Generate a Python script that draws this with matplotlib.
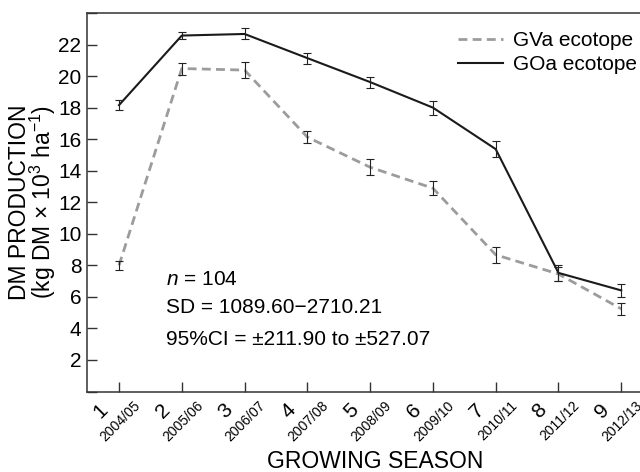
import matplotlib
matplotlib.use("Agg")
import matplotlib.pyplot as plt
import matplotlib.transforms as mtransforms

plt.rcParams['font.family'] = ['Liberation Sans', 'DejaVu Sans']
plt.rcParams['mathtext.fontset'] = 'custom'
plt.rcParams['mathtext.rm'] = 'Liberation Sans'
plt.rcParams['mathtext.it'] = 'Liberation Sans:italic'

seasons = [1, 2, 3, 4, 5, 6, 7, 8, 9]
years = ["2004/05", "2005/06", "2006/07", "2007/08", "2008/09",
         "2009/10", "2010/11", "2011/12", "2012/13"]
gva = [8.0, 20.48, 20.38, 16.13, 14.22, 12.89, 8.67, 7.45, 5.24]
gva_err = [0.3, 0.38, 0.5, 0.4, 0.5, 0.45, 0.5, 0.45, 0.38]
goa = [18.16, 22.57, 22.67, 21.14, 19.62, 18.0, 15.37, 7.52, 6.41]
goa_err = [0.33, 0.25, 0.35, 0.35, 0.35, 0.45, 0.52, 0.52, 0.42]
yticks = [0, 2, 4, 6, 8, 10, 12, 14, 16, 18, 20, 22, 24]

W, H = 640, 472
fig = plt.figure(figsize=(W / 100, H / 100), dpi=100)
ax = fig.add_axes([87 / W, 1 - 391.5 / H, 565 / W, 378.5 / H])

ax.plot(seasons, gva, color='#9c9c9c', lw=2.0, dashes=(3.2, 1.9),
        label='GVa ecotope', zorder=2)
ax.plot(seasons, goa, color='#1a1a1a', lw=1.5, label='GOa ecotope', zorder=2)
ax.errorbar(seasons, gva, yerr=gva_err, fmt='none', ecolor='#222222',
            elinewidth=0.8, capsize=2.6, capthick=0.8, zorder=3)
ax.errorbar(seasons, goa, yerr=goa_err, fmt='none', ecolor='#222222',
            elinewidth=0.8, capsize=2.6, capthick=0.8, zorder=3)

ax.set_xlim(0.49, 9.49)
ax.set_ylim(0, 24)
ax.set_yticks(yticks)
ax.set_yticklabels(['' if (v == 0 or v == 24) else str(v) for v in yticks])
ax.set_xticks(seasons)
ax.set_xticklabels([''] * len(seasons))
ax.tick_params(axis='both', direction='in', length=7.5, width=1.0,
               color='#333333', labelsize=15, pad=4)
for s in ['left', 'top', 'bottom']:
    ax.spines[s].set_linewidth(1.1)
    ax.spines[s].set_color('#333333')
ax.spines['right'].set_visible(False)

# two-part rotated x tick labels
trans = mtransforms.blended_transform_factory(ax.transData, ax.transAxes)
for s, yr in zip(seasons, years):
    t_num = mtransforms.offset_copy(trans, fig=fig, x=-8, y=-9, units='dots')
    ax.text(s, 0, str(s), transform=t_num, rotation=45, ha='right', va='top',
            fontsize=15)
    t_yr = mtransforms.offset_copy(trans, fig=fig, x=24, y=-7, units='dots')
    ax.text(s, 0, yr, transform=t_yr, rotation=45, ha='right', va='top',
            fontsize=10)

fig.text(375 / W, 1 - 461 / H, 'GROWING SEASON', ha='center', va='center',
         fontsize=16.5)
fig.text(33 / W, 1 - 202 / H,
         'DM PRODUCTION\n(kg DM × 10$^3$ ha$^{-1}$)',
         rotation=90, ha='center', va='center', fontsize=16.5,
         linespacing=0.82, multialignment='center')

ax.text(0.14, 0.281, '$n$ = 104', transform=ax.transAxes, fontsize=15,
        va='baseline')
ax.text(0.14, 0.207, 'SD = 1089.60\u22122710.21', transform=ax.transAxes,
        fontsize=15, va='baseline')
ax.text(0.14, 0.123, '95%CI = \u00b1211.90 to \u00b1527.07',
        transform=ax.transAxes, fontsize=15, va='baseline')

ax.legend(loc='upper left', bbox_to_anchor=(458 / W, 1 - 31 / H),
          bbox_transform=fig.transFigure, frameon=False, fontsize=15,
          handlelength=2.15, handletextpad=0.5, labelspacing=0.25,
          borderpad=0, borderaxespad=0)

fig.savefig('out.png', dpi=100)
